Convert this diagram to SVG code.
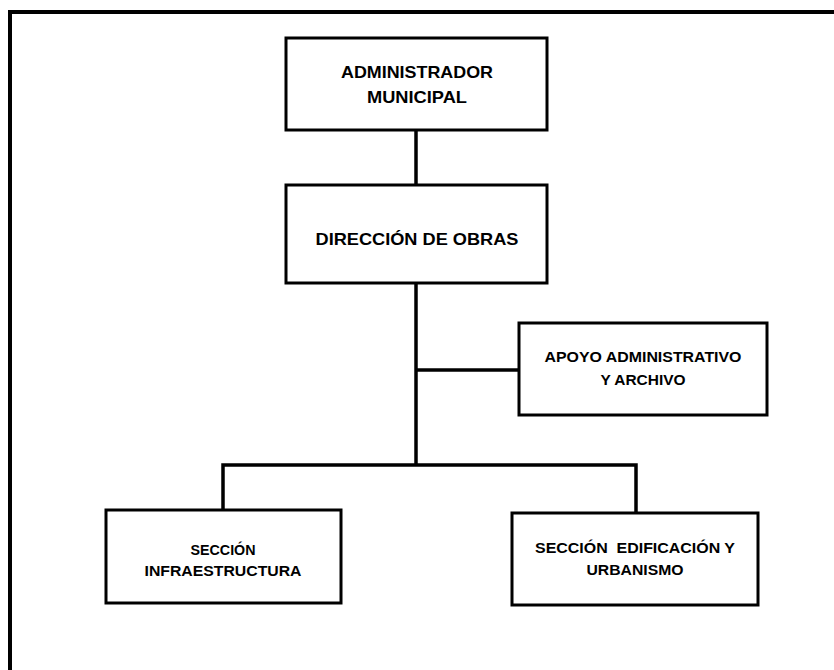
<svg xmlns="http://www.w3.org/2000/svg" width="834" height="670" viewBox="0 0 834 670">
<style>
.box{fill:#fff;stroke:#000;stroke-width:3}
.t{font-family:"Liberation Sans",Arial,sans-serif;font-weight:bold;fill:#000;text-anchor:middle}
.lg{font-size:16.5px}
.sm{font-size:14.5px}
.ln{fill:none;stroke:#000;stroke-width:3.5}
</style>
<rect width="834" height="670" fill="#fff"/>
<path d="M10,670 V12 H834" fill="none" stroke="#000" stroke-width="4"/>
<g id="connectors">
<line class="ln" x1="416" y1="130" x2="416" y2="185"/>
<line class="ln" x1="416" y1="283" x2="416" y2="465"/>
<line class="ln" x1="416" y1="370" x2="519" y2="370"/>
<polyline class="ln" points="223,510 223,465 636,465 636,512"/>
</g>
<g id="admin">
<rect class="box" x="286" y="38" width="261" height="92"/>
<text class="t lg" x="417" y="78" textLength="152" lengthAdjust="spacingAndGlyphs">ADMINISTRADOR</text>
<text class="t lg" x="417" y="103" textLength="100" lengthAdjust="spacingAndGlyphs">MUNICIPAL</text>
</g>
<g id="direccion">
<rect class="box" x="286" y="185" width="261" height="98"/>
<text class="t lg" x="417" y="245" textLength="203" lengthAdjust="spacingAndGlyphs">DIRECCIÓN DE OBRAS</text>
</g>
<g id="apoyo">
<rect class="box" x="519" y="323" width="248" height="92"/>
<text class="t sm" x="643" y="362" textLength="197" lengthAdjust="spacingAndGlyphs">APOYO ADMINISTRATIVO</text>
<text class="t sm" x="643" y="385" textLength="85" lengthAdjust="spacingAndGlyphs">Y ARCHIVO</text>
</g>
<g id="infraestructura">
<rect class="box" x="106" y="510" width="235" height="93"/>
<text class="t sm" x="223" y="555" textLength="65" lengthAdjust="spacingAndGlyphs">SECCIÓN</text>
<text class="t sm" x="223" y="576" textLength="157" lengthAdjust="spacingAndGlyphs">INFRAESTRUCTURA</text>
</g>
<g id="edificacion">
<rect class="box" x="512" y="513" width="246" height="92"/>
<text class="t sm" x="635" y="553" textLength="200" lengthAdjust="spacingAndGlyphs" xml:space="preserve">SECCIÓN  EDIFICACIÓN Y</text>
<text class="t sm" x="635" y="575" textLength="97" lengthAdjust="spacingAndGlyphs">URBANISMO</text>
</g>
</svg>
